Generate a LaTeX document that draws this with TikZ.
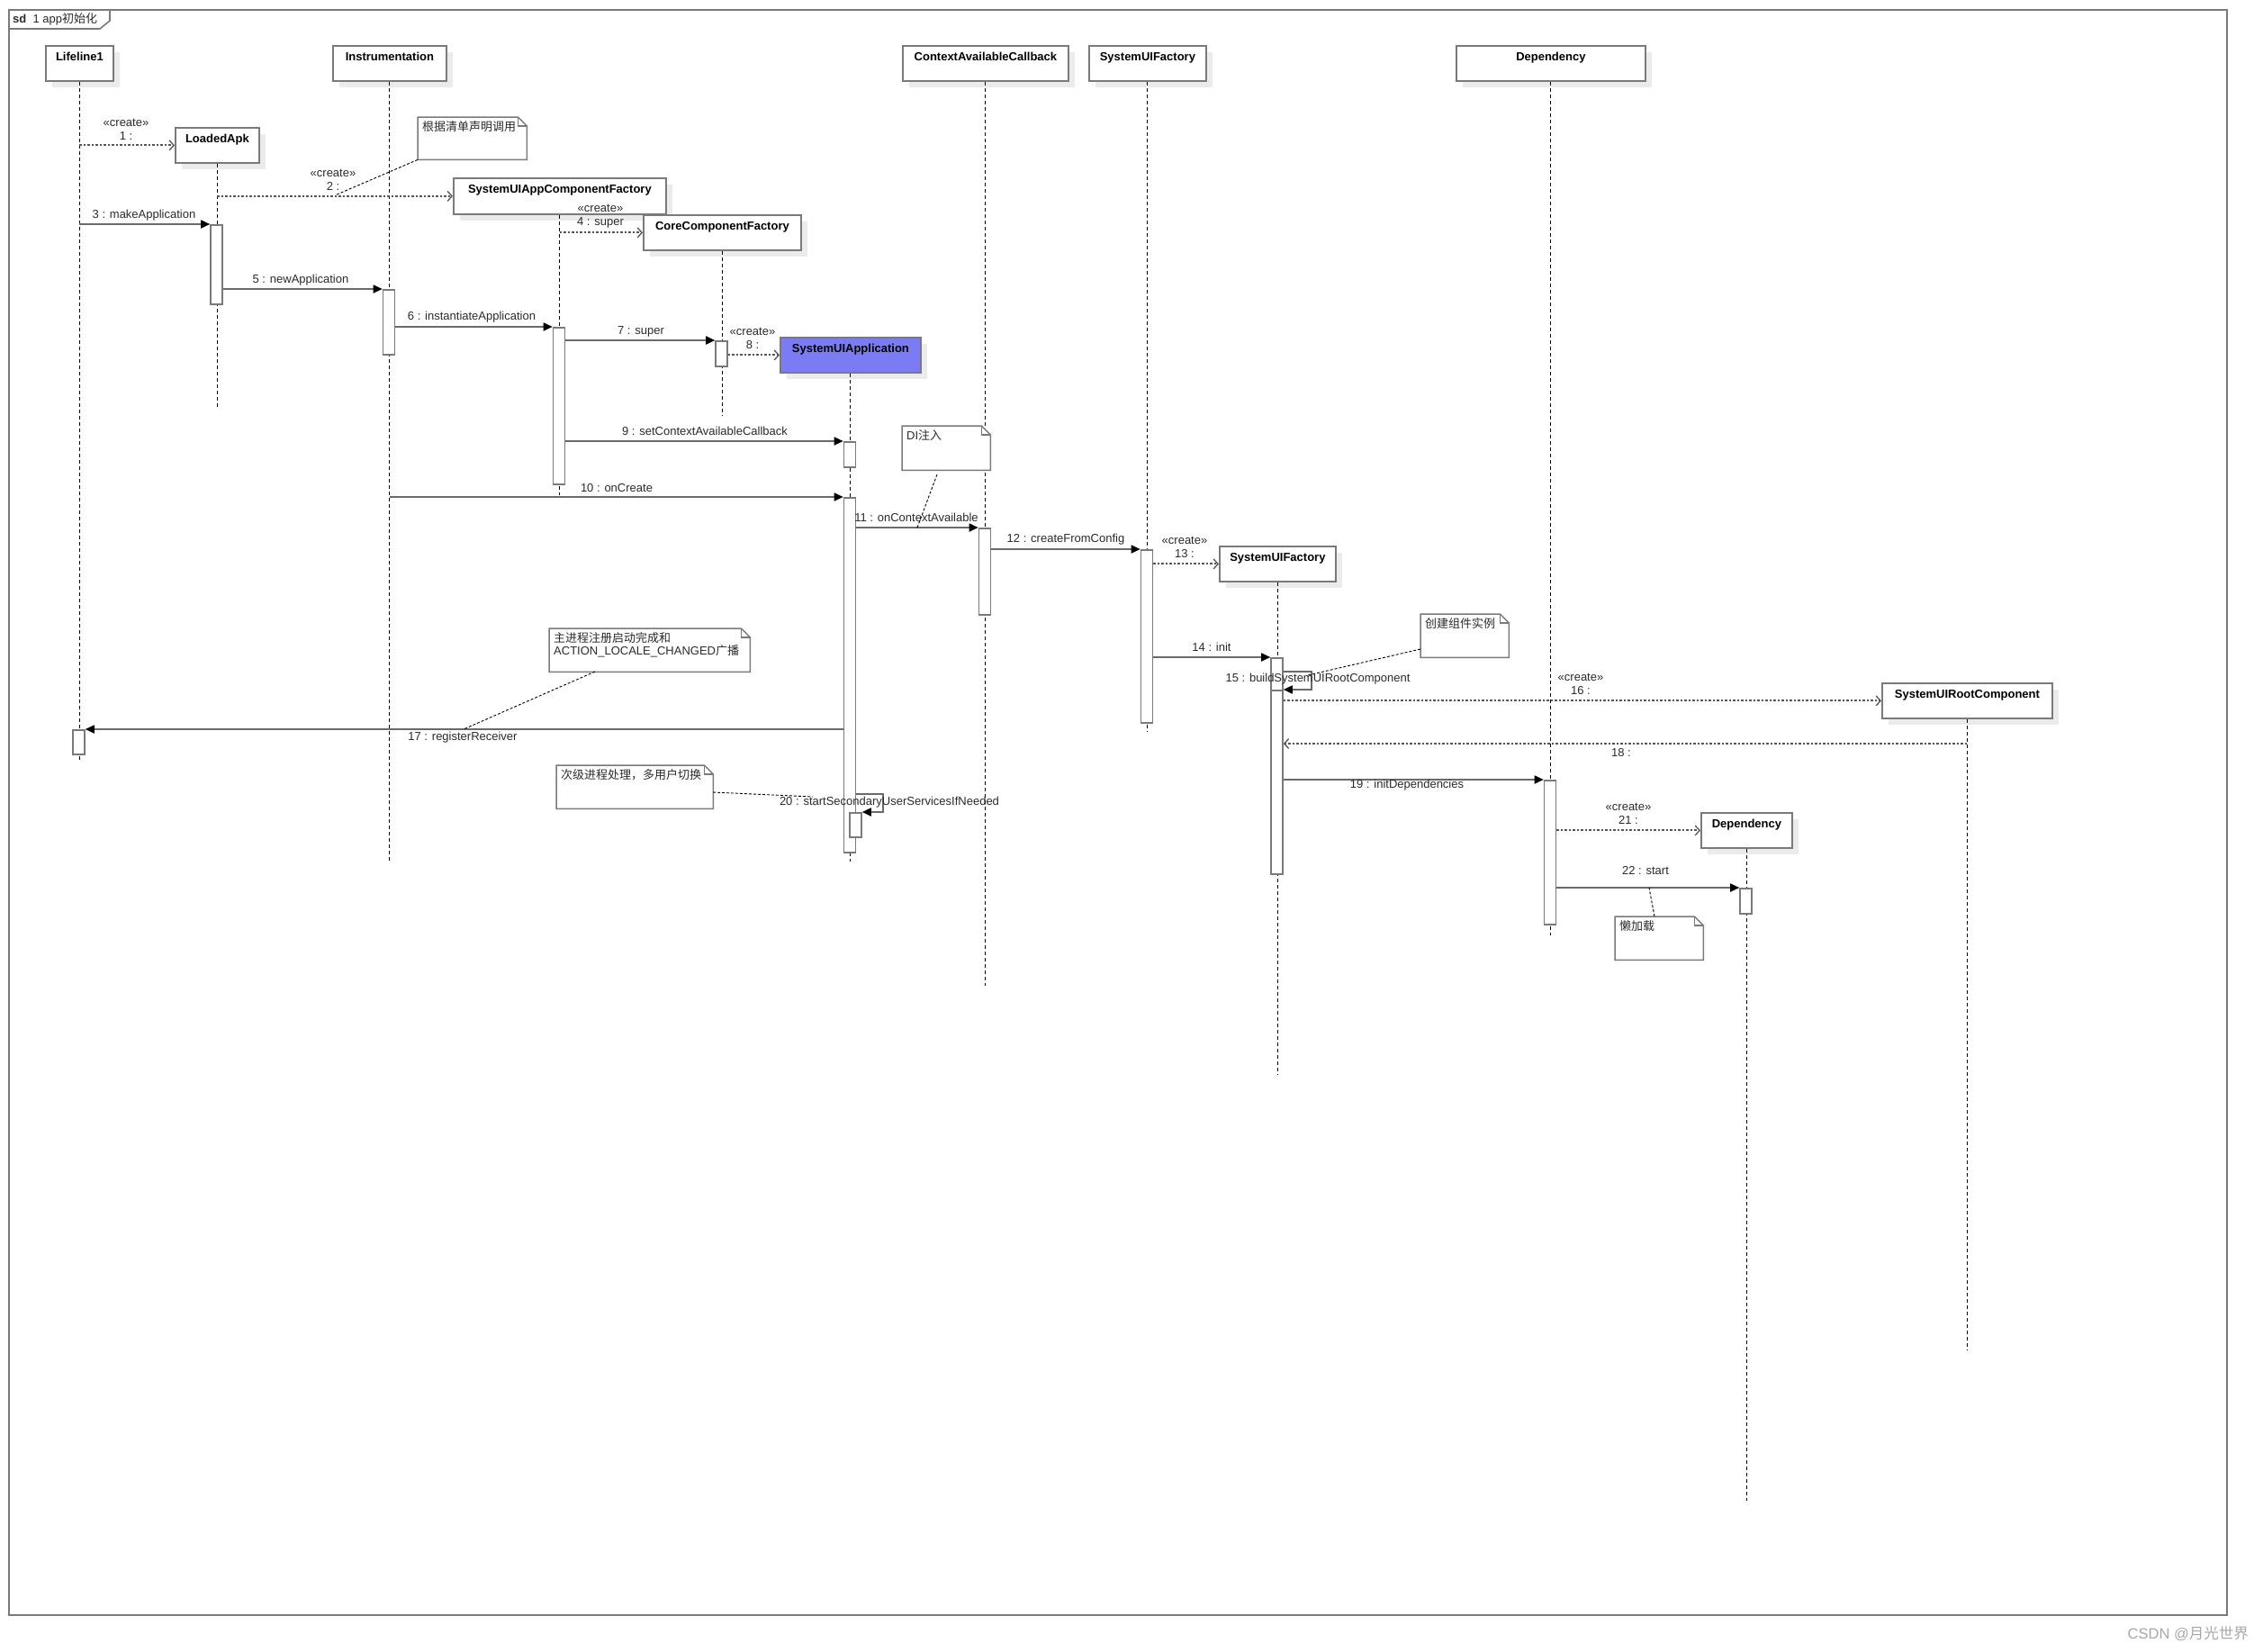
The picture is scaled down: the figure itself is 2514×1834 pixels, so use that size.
\documentclass[tikz,border=0pt]{standalone}
\usepackage{fontspec}
\setmainfont{Liberation Sans}
\newfontfamily\cjk{Noto Sans CJK SC}
\usetikzlibrary{arrows.meta,shadows}
\definecolor{linec}{HTML}{7A7A7A}
\definecolor{msgc}{HTML}{6A6A6A}
\definecolor{dotc}{HTML}{555555}
\definecolor{shadowc}{HTML}{EBEBEB}
\definecolor{bluefill}{HTML}{7B7BF4}
\definecolor{txtc}{HTML}{2B2B2B}
\definecolor{wmc}{HTML}{A8A8A8}
\tikzset{
  lbl/.style={font=\fontsize{13}{15}\selectfont, text=txtc, inner sep=0pt, align=center},
  head/.style={draw=linec, line width=1.8pt, fill=white, inner sep=0pt, anchor=north west,
    drop shadow={shadow xshift=7pt, shadow yshift=-7pt, fill=shadowc, opacity=1}},
  headtxt/.style={font=\fontsize{13}{15}\selectfont\bfseries, text=black, anchor=north, inner sep=0pt, yshift=-8pt},
  lifeline/.style={draw=black, line width=1pt, dash pattern=on 4pt off 3pt},
  act/.style={draw=linec, line width=1.6pt, fill=white, inner sep=0pt, minimum width=13pt, anchor=north},
  msg/.style={draw=msgc, line width=1.7pt, -{Triangle[length=10pt,width=9pt,black]}},
  create/.style={draw=dotc, line width=1.9pt, dash pattern=on 2.5pt off 2pt, -{Straight Barb[length=5pt,width=11pt,line width=1.3pt]}},
  notebox/.style={inner sep=0pt, anchor=north west},
  noteline/.style={draw=linec, line width=1.5pt, fill=white},
  notetxt/.style={font=\fontsize{13}{14}\selectfont, text=txtc, anchor=north west, inner sep=0pt, align=left},
  link/.style={draw=black, line width=0.9pt, dash pattern=on 3pt off 2pt},
}
\newcommand\umlnote[1]{%
  \draw[noteline] (#1.north west) -- ([xshift=-10pt]#1.north east) -- ([yshift=-10pt]#1.north east) -- (#1.south east) -- (#1.south west) -- cycle;
  \draw[noteline, fill=none] ([xshift=-10pt]#1.north east) -- ([xshift=-10pt,yshift=-10pt]#1.north east) -- ([yshift=-10pt]#1.north east);
}
\begin{document}
\begin{tikzpicture}[x=1pt, y=-1pt]
\useasboundingbox (0,0) rectangle (2514,1834);
\fill[white] (0,0) rectangle (2514,1834);

% frame
\node[draw=linec, line width=2pt, minimum width=2464pt, minimum height=1783pt, anchor=north west, inner sep=0pt] (frame) at (9,10) {};
\draw[linec, line width=1.6pt] (122,10) -- (122,23) -- (111,32) -- (9,32);
\node[anchor=west, font=\fontsize{13}{15}\selectfont, text=txtc, inner sep=0pt] (title) at (14,21) {\textbf{sd}\ \ 1 app{\cjk 初始化}};

% lifeline heads
\node[head, minimum width=75pt, minimum height=39pt, label={[headtxt]north:Lifeline1}] (L1) at (50,50) {};
\node[head, minimum width=126pt, minimum height=39pt, label={[headtxt]north:Instrumentation}] (IN) at (369,50) {};
\node[head, minimum width=184pt, minimum height=39pt, label={[headtxt]north:ContextAvailableCallback}] (CAC) at (1002,50) {};
\node[head, minimum width=130pt, minimum height=39pt, label={[headtxt]north:SystemUIFactory}] (SUF1) at (1209,50) {};
\node[head, minimum width=210pt, minimum height=39pt, label={[headtxt]north:Dependency}] (DEP1) at (1617,50) {};
\node[head, minimum width=93pt, minimum height=39pt, label={[headtxt]north:LoadedApk}] (LA) at (194,141) {};
\node[head, minimum width=236pt, minimum height=40pt, label={[headtxt]north:SystemUIAppComponentFactory}] (SAF) at (503,197) {};
\node[head, minimum width=175pt, minimum height=39pt, label={[headtxt]north:CoreComponentFactory}] (CCF) at (714,238) {};
\node[head, fill=bluefill, minimum width=156pt, minimum height=39pt, label={[headtxt]north:SystemUIApplication}] (SUA) at (866,374) {};
\node[head, minimum width=129pt, minimum height=39pt, label={[headtxt]north:SystemUIFactory}] (SUF2) at (1354,606) {};
\node[head, minimum width=189pt, minimum height=39pt, label={[headtxt]north:SystemUIRootComponent}] (SURC) at (2090,758) {};
\node[head, minimum width=101pt, minimum height=39pt, label={[headtxt]north:Dependency}] (DEP2) at (1889,902) {};

% lifeline ends
\coordinate (eL1) at (0,846);
\coordinate (eLA) at (0,453);
\coordinate (eIN) at (0,957);
\coordinate (eSAF) at (0,550);
\coordinate (eCCF) at (0,462);
\coordinate (eSUA) at (0,957);
\coordinate (eCAC) at (0,1095);
\coordinate (eSUF1) at (0,813);
\coordinate (eSUF2) at (0,1194);
\coordinate (eDEP1) at (0,1039);
\coordinate (eSURC) at (0,1499);
\coordinate (eDEP2) at (0,1667);
\foreach \n in {L1,LA,IN,SAF,CCF,SUA,CAC,SUF1,SUF2,DEP1,SURC,DEP2}
  \draw[lifeline] (\n.south) -- (\n.south |- e\n);

% activations
\node[act, minimum height=88pt] (aLA) at (240.5,249) {};
\node[act, minimum height=72pt] (aIN) at (432,321) {};
\node[act, minimum height=174pt] (aSAF) at (621,363) {};
\node[act, minimum height=28pt] (aCCF) at (801.5,378) {};
\node[act, minimum height=28pt] (aSUA9) at (944,490) {};
\node[act, minimum height=394pt] (aSUA) at (944,552) {};
\node[act, minimum height=27pt] (aSUA20) at (950.5,902) {};
\node[act, minimum height=96pt] (aCAC) at (1094,586) {};
\node[act, minimum height=192pt] (aSUF1) at (1274,610) {};
\node[act, minimum height=36pt] (aSUF2a) at (1418.5,730) {};
\node[act, minimum height=204pt] (aSUF2b) at (1418.5,766) {};
\node[act, minimum height=27pt] (aL1) at (87.5,810) {};
\node[act, minimum height=160pt] (aDEP1) at (1722,866) {};
\node[act, minimum height=28pt] (aDEP2) at (1939.5,986) {};

% message levels
\coordinate (y15) at (0,746);
\coordinate (y18) at (0,826);
\coordinate (y20) at (0,882);

% messages
\draw[create] (L1.south |- LA.west) -- (LA.west);
\draw[create] (LA.south |- SAF.west) -- (SAF.west);
\draw[msg] (L1.south |- aLA.north) -- (aLA.north west);
\draw[create] (SAF.south |- CCF.west) -- (CCF.west);
\draw[msg] (aLA.east |- aIN.north) -- (aIN.north west);
\draw[msg] (aIN.east |- aSAF.north) -- (aSAF.north west);
\draw[msg] (aSAF.east |- aCCF.north) -- (aCCF.north west);
\draw[create] (aCCF.east |- SUA.west) -- (SUA.west);
\draw[msg] (aSAF.east |- aSUA9.north) -- (aSUA9.north west);
\draw[msg] (IN.south |- aSUA.north) -- (aSUA.north west);
\draw[msg] (aSUA.east |- aCAC.north) -- (aCAC.north west);
\draw[msg] (aCAC.east |- aSUF1.north) -- (aSUF1.north west);
\draw[create] (aSUF1.east |- SUF2.west) -- (SUF2.west);
\draw[msg] (aSUF1.east |- aSUF2a.north) -- (aSUF2a.north west);
\draw[msg] (aSUF2a.east |- y15) -- ++(31,0) |- (aSUF2b.north east);
\draw[create] (aSUF2b.east |- SURC.west) -- (SURC.west);
\draw[msg] (aSUA.west |- aL1.north) -- (aL1.north east);
\draw[create] (SURC.south |- y18) -- (aSUF2b.east |- y18);
\draw[msg] (aSUF2b.east |- aDEP1.north) -- (aDEP1.north west);
\draw[msg] (aSUA.east |- y20) -- ++(30,0) |- (aSUA20.north east);
\draw[create] (aDEP1.east |- DEP2.west) -- (DEP2.west);
\draw[msg] (aDEP1.east |- aDEP2.north) -- (aDEP2.north west);

% message labels
\node[lbl] (t1) at (140,143.5) {«create»\\1 :};
\node[lbl] (t2) at (370,199.5) {«create»\\2 :};
\node[lbl] (t3) at (160,239) {3 : makeApplication};
\node[lbl] (t4) at (667,240.5) {«create»\\4 : super};
\node[lbl] (t5) at (334,311) {5 : newApplication};
\node[lbl] (t6) at (524,352) {6 : instantiateApplication};
\node[lbl] (t7) at (712,368) {7 : super};
\node[lbl] (t8) at (836,376) {«create»\\8 :};
\node[lbl] (t9) at (783,479) {9 : setContextAvailableCallback};
\node[lbl] (t10) at (685,542) {10 : onCreate};
\node[lbl] (t11) at (1018,575) {11 : onContextAvailable};
\node[lbl] (t12) at (1184,599) {12 : createFromConfig};
\node[lbl] (t13) at (1316,608) {«create»\\13 :};
\node[lbl] (t14) at (1346,719) {14 : init};
\node[lbl] (t15) at (1464,754) {15 : buildSystemUIRootComponent};
\node[lbl] (t16) at (1756,760) {«create»\\16 :};
\node[lbl] (t17) at (514,819) {17 : registerReceiver};
\node[lbl] (t18) at (1801,836) {18 :};
\node[lbl] (t19) at (1563,872) {19 : initDependencies};
\node[lbl] (t20) at (988,891) {20 : startSecondaryUserServicesIfNeeded};
\node[lbl] (t21) at (1809,904) {«create»\\21 :};
\node[lbl] (t22) at (1828,967) {22 : start};

% notes
\node[notebox, minimum width=121pt, minimum height=47pt] (n1) at (464,130) {};
\umlnote{n1}
\node[notetxt] (n1t) at ([xshift=5pt,yshift=-4pt]n1.north west) {\cjk 根据清单声明调用};
\coordinate (c1) at (372,217);
\draw[link] (n1.south west) -- (c1);

\node[notebox, minimum width=98pt, minimum height=49pt] (n2) at (1002,473) {};
\umlnote{n2}
\node[notetxt] (n2t) at ([xshift=5pt,yshift=-4pt]n2.north west) {DI{\cjk 注入}};
\coordinate (c2a) at (1041,527);
\coordinate (c2) at (1019,586);
\draw[link] (c2a) -- (c2);

\node[notebox, minimum width=223pt, minimum height=48pt] (n3) at (610,698) {};
\umlnote{n3}
\node[notetxt] (n3t) at ([xshift=5pt,yshift=-4pt]n3.north west) {{\cjk 主进程注册启动完成和}\\ACTION\_LOCALE\_CHANGED{\cjk 广播}};
\coordinate (c3a) at (661,746);
\coordinate (c3) at (515,810);
\draw[link] (c3a) -- (c3);

\node[notebox, minimum width=98pt, minimum height=48pt] (n4) at (1578,682) {};
\umlnote{n4}
\node[notetxt] (n4t) at ([xshift=5pt,yshift=-4pt]n4.north west) {\cjk 创建组件实例};
\coordinate (c4a) at (1578,721);
\coordinate (c4) at (1453,750);
\draw[link] (c4a) -- (c4);

\node[notebox, minimum width=174pt, minimum height=48pt] (n5) at (618,850) {};
\umlnote{n5}
\node[notetxt] (n5t) at ([xshift=5pt,yshift=-4pt]n5.north west) {\cjk 次级进程处理，多用户切换};
\coordinate (c5a) at (792,880);
\coordinate (c5) at (903,885);
\draw[link] (c5a) -- (c5);

\node[notebox, minimum width=98pt, minimum height=48pt] (n6) at (1794,1018) {};
\umlnote{n6}
\node[notetxt] (n6t) at ([xshift=5pt,yshift=-4pt]n6.north west) {\cjk 懒加载};
\coordinate (c6a) at (1838,1018);
\coordinate (c6) at (1832,986);
\draw[link] (c6a) -- (c6);

% watermark
\node[anchor=east, font=\fontsize{16.5}{18}\selectfont, text=wmc, inner sep=0pt] (wm) at (2498,1815) {CSDN @{\cjk 月光世界}};
\end{tikzpicture}
\end{document}
